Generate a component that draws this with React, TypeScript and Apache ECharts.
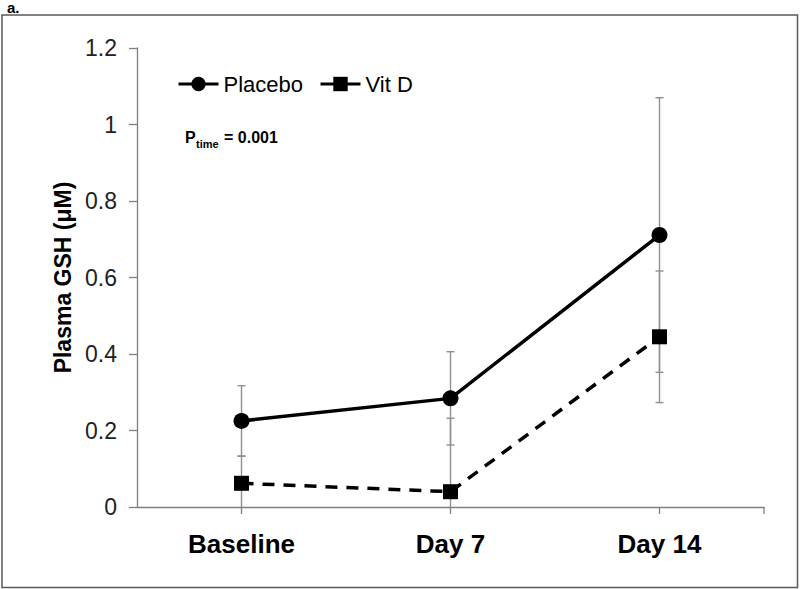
import React, { useEffect, useRef } from "react";
import * as echarts from "echarts";

const categories = ["Baseline", "Day 7", "Day 14"];
const placeboMean = [0.225, 0.284, 0.711];
const placeboErr = [0.092, 0.122, 0.359];
const vitDMean = [0.062, 0.04, 0.445];
const vitDErr = [0.071, 0.192, 0.172];
const yTicks = { min: 0, max: 1.2, interval: 0.2 };

const FONT = "Arial, 'Liberation Sans', sans-serif";

function errData(mean: number[], err: number[]) {
  return mean.map((m, i) => [i, m + err[i], Math.max(0, m - err[i])]);
}

function errorBarRender(params: any, api: any) {
  const x = api.value(0);
  const hi = api.value(1);
  const lo = api.value(2);
  const top = api.coord([x, hi]);
  const bot = api.coord([x, lo]);
  const capW = 4;
  const style = { stroke: "#8f8f8f", lineWidth: 1.4 };
  const children: any[] = [
    { type: "line", shape: { x1: top[0], y1: top[1], x2: bot[0], y2: bot[1] }, style },
    { type: "line", shape: { x1: top[0] - capW, y1: top[1], x2: top[0] + capW, y2: top[1] }, style },
  ];
  if (lo > 0) {
    children.push({ type: "line", shape: { x1: bot[0] - capW, y1: bot[1], x2: bot[0] + capW, y2: bot[1] }, style });
  }
  return { type: "group", children };
}

export default function App() {
  const ref = useRef<HTMLDivElement>(null);
  useEffect(() => {
    if (!ref.current) return;
    const chart = echarts.init(ref.current, null, { renderer: "svg" });
    chart.setOption({
      animation: false,
      backgroundColor: "#ffffff",
      grid: { left: 137, right: 36, top: 48, bottom: 82, containLabel: false },
      legend: {
        left: 172,
        top: 68,
        itemWidth: 40,
        itemHeight: 18,
        itemGap: 16,
        textStyle: { fontFamily: FONT, fontSize: 22, color: "#000" },
        data: [
          { name: "Placebo", lineStyle: { width: 3 } },
          { name: "Vit D", lineStyle: { type: "solid", width: 3 } },
        ],
      },
      xAxis: {
        type: "category",
        data: categories,
        boundaryGap: true,
        axisLine: { lineStyle: { color: "#7f7f7f", width: 1.3 } },
        axisTick: { show: true, alignWithLabel: true, length: 7, lineStyle: { color: "#7f7f7f", width: 1.3 } },
        axisLabel: { fontFamily: FONT, fontSize: 26, fontWeight: "bold", color: "#000", margin: 24 },
        splitLine: { show: false },
      },
      yAxis: {
        type: "value",
        min: yTicks.min,
        max: yTicks.max,
        interval: yTicks.interval,
        name: "Plasma GSH (μM)",
        nameLocation: "middle",
        nameGap: 58,
        nameTextStyle: { fontFamily: FONT, fontSize: 23, fontWeight: "bold", color: "#000" },
        axisLine: { show: true, lineStyle: { color: "#7f7f7f", width: 1.3 } },
        axisTick: { show: true, inside: false, length: 8, lineStyle: { color: "#7f7f7f", width: 1.3 } },
        axisLabel: { fontFamily: FONT, fontSize: 23, color: "#222", margin: 20 },
        splitLine: { show: false },
      },
      series: [
        {
          type: "custom",
          name: "errPlacebo",
          renderItem: errorBarRender,
          data: errData(placeboMean, placeboErr),
          z: 1,
          silent: true,
        },
        {
          type: "custom",
          name: "errVitD",
          renderItem: errorBarRender,
          data: errData(vitDMean, vitDErr),
          z: 1,
          silent: true,
        },
        {
          type: "line",
          name: "Placebo",
          data: placeboMean,
          symbol: "circle",
          symbolSize: 16,
          lineStyle: { color: "#000", width: 3.5 },
          itemStyle: { color: "#000" },
          z: 5,
        },
        {
          type: "line",
          name: "Vit D",
          data: vitDMean,
          symbol: "rect",
          symbolSize: 15,
          lineStyle: { color: "#000", width: 3.5, type: [12, 9] },
          itemStyle: { color: "#000" },
          z: 5,
        },
      ],
      graphic: [
        {
          type: "rect",
          shape: { x: 2, y: 15, width: 795.5, height: 572.5 },
          style: { fill: "none", stroke: "#5a5a5a", lineWidth: 1.5 },
          silent: true,
        },
        {
          type: "text",
          x: 7,
          y: 0,
          style: { text: "a.", font: `bold 15px ${FONT}`, fill: "#000" },
        },
        {
          type: "line",
          shape: { x1: 764, y1: 507, x2: 764, y2: 514 },
          style: { stroke: "#7f7f7f", lineWidth: 1.3 },
        },
        {
          type: "text",
          x: 185,
          y: 137,
          style: { text: "P", font: `bold 16px ${FONT}`, fill: "#000", verticalAlign: "middle" },
        },
        {
          type: "text",
          x: 196,
          y: 144,
          style: { text: "time", font: `bold 11px ${FONT}`, fill: "#000", verticalAlign: "middle" },
        },
        {
          type: "text",
          x: 224,
          y: 137,
          style: { text: "= 0.001", font: `bold 16px ${FONT}`, fill: "#000", verticalAlign: "middle" },
        },
      ],
    });
    return () => chart.dispose();
  }, []);
  return (
    <div
      ref={ref}
      style={{ position: "fixed", left: 0, top: 0, width: 800, height: 589, background: "#fff" }}
    />
  );
}
